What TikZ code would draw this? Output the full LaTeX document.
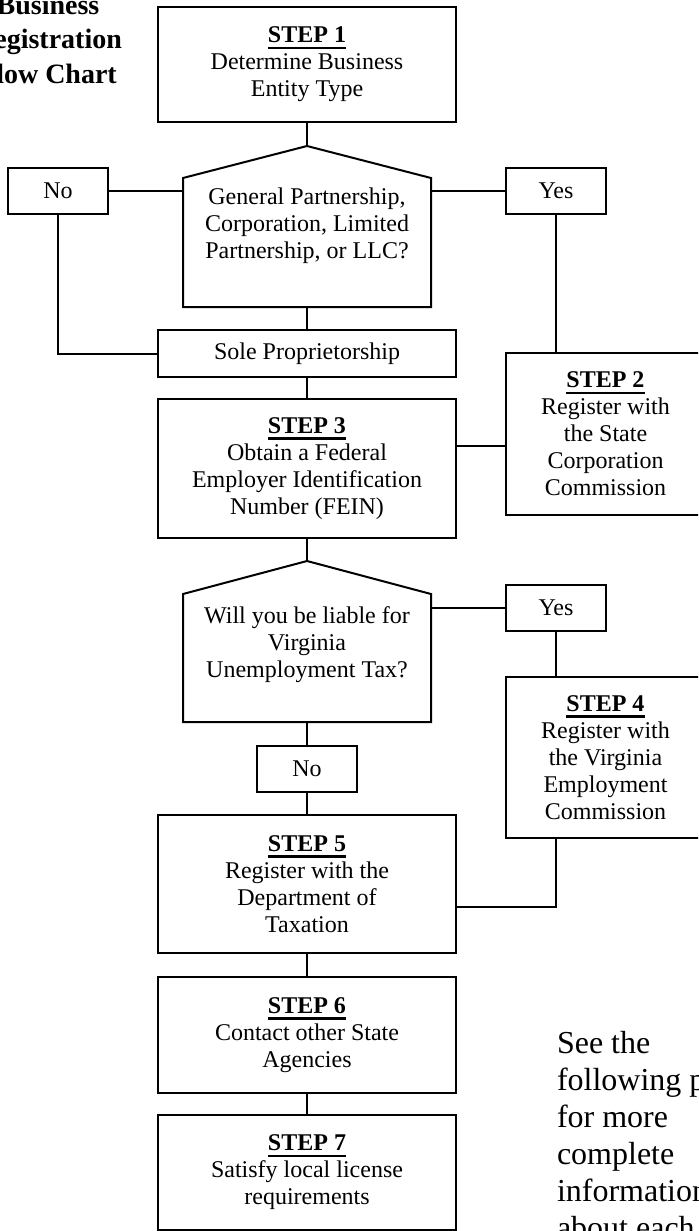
\documentclass[tikz,border=0pt]{standalone}
\usepackage{fontspec}
\setmainfont{Liberation Serif}
\usepackage{tikz}
\newsavebox\headbox
\newcommand{\stephead}[1]{\sbox\headbox{\bfseries #1}\rlap{\raisebox{-3.1pt}{\rule{\wd\headbox}{1.2pt}}}\usebox\headbox}

\begin{document}
\begin{tikzpicture}[x=1pt,y=-1pt,line width=1pt]
  \tikzstyle{stepbox}=[rectangle,draw,align=center,inner sep=2pt,minimum width=149pt,font=\fontsize{12}{13.5}\selectfont]
  \tikzstyle{sidebox}=[stepbox,minimum width=99.5pt]
  \tikzstyle{answer}=[stepbox,minimum width=50pt,minimum height=23pt]
  \tikzstyle{decision}=[rectangle,outer sep=0pt,minimum width=124pt,minimum height=64.5pt]
  \tikzstyle{question}=[align=center,anchor=north,inner sep=0pt,font=\fontsize{12}{13.5}\selectfont]
  \useasboundingbox (0,0) rectangle (349,615.5);
  \clip (0,0) rectangle (349,615.5);
  % title and note
  \node(title) at (24,-3) [anchor=north,align=center,inner sep=0pt,font=\fontsize{14}{17.25}\selectfont\bfseries]{Business\\Registration\\Flow Chart};
  \node(note) at (278,515.1) [anchor=north west,align=left,inner sep=0pt,font=\fontsize{16}{18.5}\selectfont]{See the\\following pages\\for more\\complete\\information\\about each step.};
  % boxes
  \node(step1) at (153.5,32.25) [stepbox,minimum height=57.5pt]{\stephead{STEP 1}\\Determine Business\\Entity Type};
  \coordinate(top1) at (153.5,73);
  \node(dec1) at (153.5,121.25) [decision]{};
  \node(q1) at (153.5,93.3) [question]{General Partnership,\\Corporation, Limited\\Partnership, or LLC?};
  \node(no1) at (29,95.5) [answer]{No};
  \node(yes1) at (278,95.5) [answer]{Yes};
  \node(sole) at (153.5,176.75) [stepbox,minimum height=23.5pt]{Sole Proprietorship};
  \node(step2) at (302.75,217) [sidebox,minimum height=81pt]{\stephead{STEP 2}\\Register with\\the State\\Corporation\\Commission};
  \node(step3) at (153.5,234.25) [stepbox,minimum height=69.5pt]{\stephead{STEP 3}\\Obtain a Federal\\Employer Identification\\Number (FEIN)};
  \coordinate(top2) at (153.5,280.5);
  \node(dec2) at (153.5,329) [decision,minimum height=64pt]{};
  \node(q2) at (153.5,302.8) [question]{Will you be liable for\\Virginia\\Unemployment Tax?};
  \node(yes2) at (278,303.75) [answer]{Yes};
  \node(no2) at (153.5,384.5) [answer]{No};
  \node(step4) at (302.75,378.75) [sidebox,minimum height=80.5pt]{\stephead{STEP 4}\\Register with\\the Virginia\\Employment\\Commission};
  \node(step5) at (153.5,442) [stepbox,minimum height=69pt]{\stephead{STEP 5}\\Register with the\\Department of\\Taxation};
  \node(step6) at (153.5,517.5) [stepbox,minimum height=58pt]{\stephead{STEP 6}\\Contact other State\\Agencies};
  \node(step7) at (153.5,586.25) [stepbox,minimum height=57.5pt]{\stephead{STEP 7}\\Satisfy local license\\requirements};
  % decision outlines
  \draw(dec1.north west)--(top1)--(dec1.north east)--(dec1.south east)--(dec1.south west)--cycle;
  \draw(dec2.north west)--(top2)--(dec2.north east)--(dec2.south east)--(dec2.south west)--cycle;
  % connectors
  \draw(step1)--(top1);
  \draw(no1.east)--(no1.east -| dec1.west);
  \draw(yes1.west)--(yes1.west -| dec1.east);
  \draw(dec1)--(sole);
  \draw(no1)|-(sole);
  \draw(yes1)--(yes1 |- step2.north);
  \draw(sole)--(step3);
  \draw([yshift=11.25pt]step3.east)--([yshift=11.25pt]step3.east -| step2.west);
  \draw(step3)--(top2);
  \draw(yes2)--(yes2 -| dec2.east);
  \draw(yes2)--(yes2 |- step4.north);
  \draw(dec2)--(no2);
  \draw(no2)--(step5);
  \draw(yes2 |- step4.south)|-([yshift=-11.5pt]step5.east);
  \draw(step5)--(step6);
  \draw(step6)--(step7);
\end{tikzpicture}
\end{document}
